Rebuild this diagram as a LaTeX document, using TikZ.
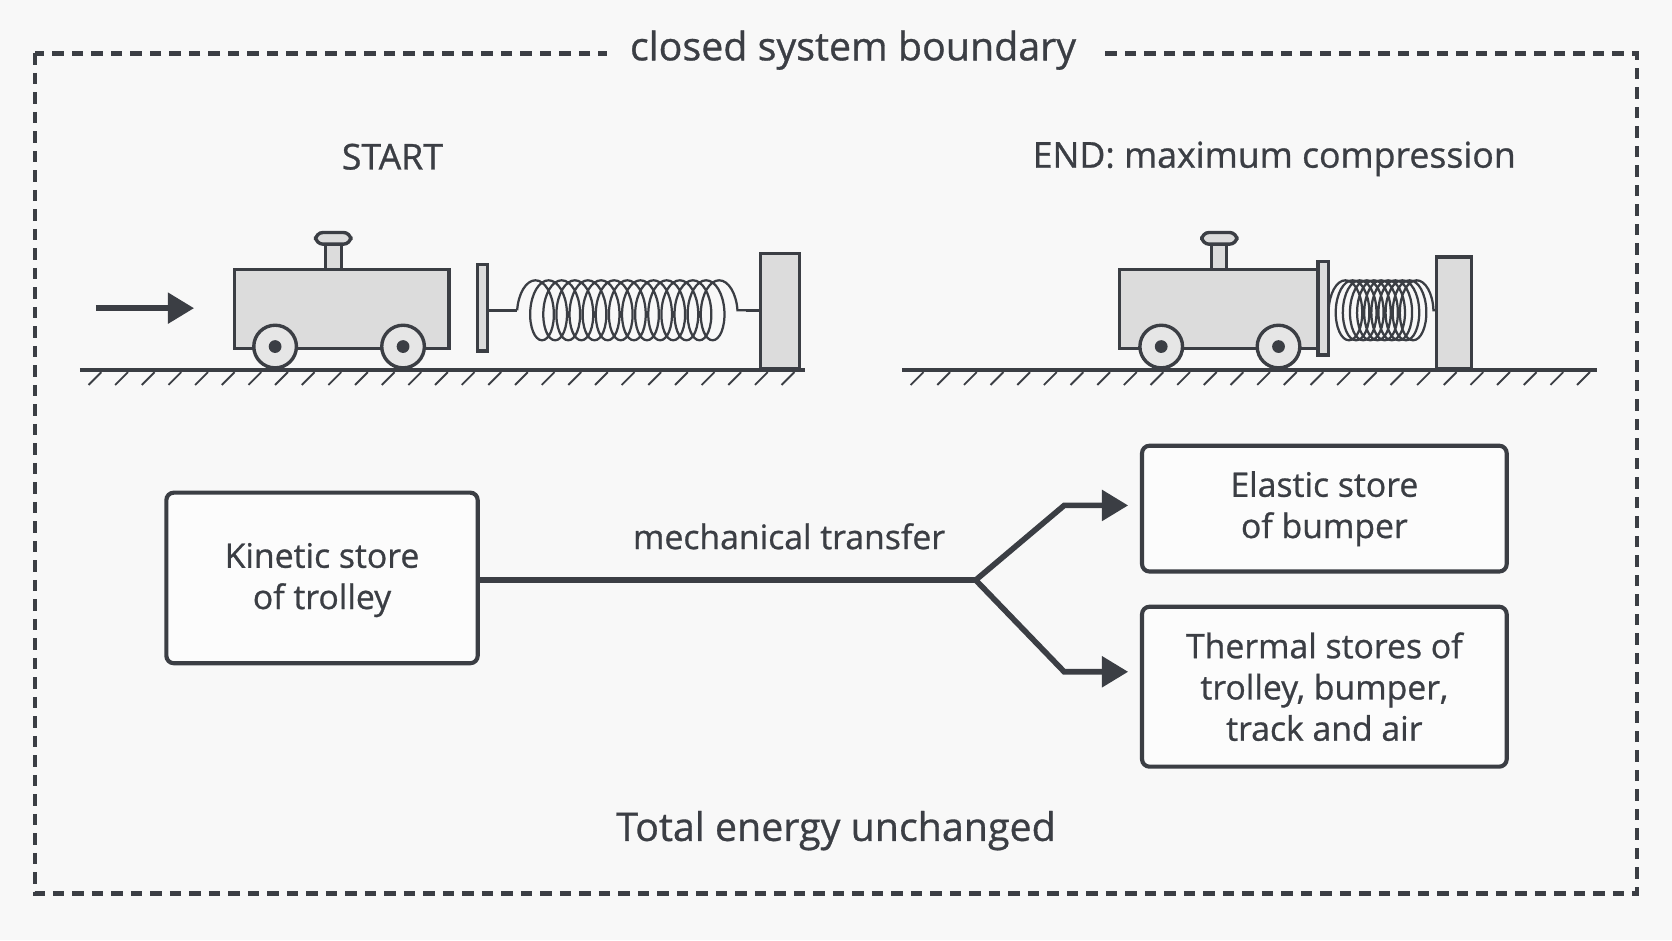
\documentclass[tikz,border=0pt]{standalone}
\usepackage{fontspec}
\setmainfont[FakeBold=0.8]{Open Sans}
\usetikzlibrary{decorations.pathmorphing,arrows.meta}
\definecolor{ink}{HTML}{3B3E44}
\definecolor{bg}{HTML}{F8F8F8}
\definecolor{part}{HTML}{DCDCDC}
\tikzset{
 lbl/.style={text=ink,font=\fontsize{9}{11}\selectfont,align=center},
 store/.style={draw=ink,line width=1.1pt,rounded corners=2pt,fill=white!60!bg},
 thing/.style={draw=ink,line width=0.9pt,fill=part},
 flow/.style={draw=ink,line width=1.5pt,-{Triangle[length=7pt,width=8pt]}},
 springc/.style={draw=ink,line width=0.6pt,decorate,decoration={coil,aspect=0.5,amplitude=8pt,segment length=#1}}
}
\begin{document}
\begin{tikzpicture}[x=0.01cm,y=-0.01cm]
\fill[bg] (0,0) rectangle (1568,882);
\useasboundingbox (0,0) rectangle (1568,882);
\draw[ink,line width=1.2pt,dash pattern=on 3pt off 2.2pt] (33,50) rectangle (1535,838);
\node[lbl,fill=bg,font=\fontsize{10.5}{12}\selectfont,inner xsep=6pt] (title) at (800,47) {closed system boundary};
\node[lbl,font=\fontsize{9.5}{11}\selectfont] (start) at (368,147) {START};
\node[lbl,font=\fontsize{9.5}{11}\selectfont] (endt) at (1195,149) {END: maximum compression};
% grounds
\draw[ink,line width=1pt] (75,347) -- (755,347);
\foreach \x in {95,120,...,755} \draw[ink,line width=0.5pt] (\x,349) -- (\x-12,361);
\draw[ink,line width=1pt] (846,347) -- (1498,347);
\foreach \x in {866,891,...,1498} \draw[ink,line width=0.5pt] (\x,349) -- (\x-12,361);
% arrow
\coordinate (a1) at (90,289); \coordinate (a2) at (182,289);
\draw[flow] (a1) -- (a2);
% left cart
\draw[thing] (305,226) rectangle (320,253);
\draw[thing,rounded corners=2pt] (296,218) rectangle (329,229);
\draw[thing] (220,253) rectangle (421,327);
\foreach \x in {258,378}{\draw[thing,fill=part!70] (\x,325) circle (20); \fill[ink] (\x,325) circle (6);}
\draw[thing] (448,248) rectangle (457,329);
\draw[ink,line width=0.8pt] (457,291) -- (485,291);
\draw[springc=3.5pt] (485,291) -- (700,291);
\draw[ink,line width=0.8pt] (700,291) -- (713,291);
\draw[thing] (713,238) rectangle (750,346);
% right cart
\draw[thing] (1136,226) rectangle (1150,253);
\draw[thing,rounded corners=2pt] (1127,218) rectangle (1160,229);
\draw[thing] (1050,253) rectangle (1236,327);
\foreach \x in {1089,1199}{\draw[thing,fill=part!70] (\x,325) circle (20); \fill[ink] (\x,325) circle (6);}
\draw[thing] (1236,245) rectangle (1246,333);
\draw[springc=1.9pt] (1246,291) -- (1347,291);
\draw[thing] (1347,241) rectangle (1380,346);
% stores
\draw[store] (156,462) rectangle (448,622);
\node[lbl] (kint) at (302,544) {Kinetic store\\of trolley};
\draw[store] (1071,418) rectangle (1413,536);
\node[lbl] (ela) at (1242,477) {Elastic store\\of bumper};
\draw[store] (1071,569) rectangle (1413,719);
\node[lbl] (the) at (1242,644) {Thermal stores of\\trolley, bumper,\\track and air};
\coordinate (k) at (448,544); \coordinate (br) at (915,544);
\coordinate (e) at (1058,474); \coordinate (t) at (1058,630);
\draw[ink,line width=1.5pt] (k) -- (br);
\draw[flow] (br) -- (998,474) -- (e);
\draw[flow] (br) -- (998,630) -- (t);
\node[lbl] (mt) at (740,503) {mechanical transfer};
\node[lbl,font=\fontsize{10.5}{12}\selectfont] (tot) at (784,779) {Total energy unchanged};
\end{tikzpicture}
\end{document}
